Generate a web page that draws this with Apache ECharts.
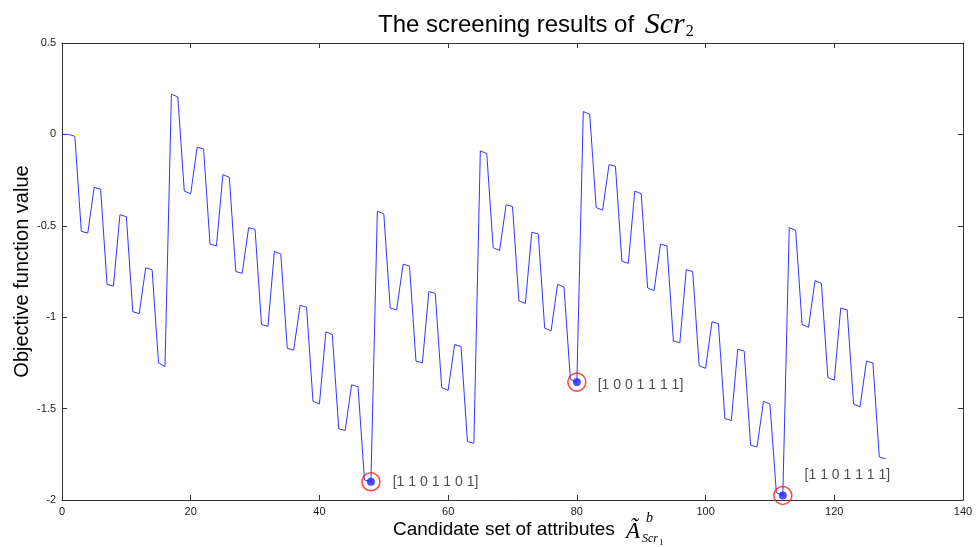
<!DOCTYPE html>
<html><head><meta charset="utf-8">
<script src="https://cdn.jsdelivr.net/npm/echarts@6/dist/echarts.min.js"></script>
<style>html,body{margin:0;padding:0;background:#fff}#c{width:976px;height:547px}</style>
</head><body><div id="c"></div>
<script>
// Objective function value for candidate index 0..128
const objectiveValues = [
  0.00,
  0.00, -0.01, -0.53, -0.54, -0.29, -0.30, -0.82, -0.83,
  -0.44, -0.45, -0.97, -0.98, -0.73, -0.74, -1.25, -1.27,
  0.22, 0.205, -0.31, -0.325, -0.07, -0.08, -0.60, -0.61,
  -0.22, -0.235, -0.75, -0.76, -0.51, -0.52, -1.04, -1.05,
  -0.64, -0.655, -1.17, -1.18, -0.935, -0.945, -1.46, -1.475,
  -1.08, -1.095, -1.61, -1.62, -1.37, -1.38, -1.89, -1.90,
  -0.42, -0.435, -0.95, -0.96, -0.71, -0.72, -1.24, -1.25,
  -0.86, -0.87, -1.385, -1.40, -1.15, -1.16, -1.68, -1.69,
  -0.09, -0.105, -0.62, -0.635, -0.385, -0.395, -0.91, -0.925,
  -0.535, -0.545, -1.06, -1.075, -0.82, -0.835, -1.34, -1.355,
  0.125, 0.11, -0.40, -0.415, -0.165, -0.175, -0.695, -0.705,
  -0.31, -0.325, -0.84, -0.855, -0.60, -0.61, -1.13, -1.14,
  -0.74, -0.75, -1.265, -1.28, -1.025, -1.035, -1.555, -1.565,
  -1.175, -1.185, -1.70, -1.71, -1.46, -1.475, -1.96, -1.975,
  -0.51, -0.525, -1.04, -1.055, -0.80, -0.815, -1.33, -1.345,
  -0.95, -0.96, -1.475, -1.49, -1.24, -1.25, -1.765, -1.775
];
// highlighted minima
const markedX = [48, 80, 112];
const markedCodes = ['[1 1 0 1 1 0 1]', '[1 0 0 1 1 1 1]', '[1 1 0 1 1 1 1]'];
const xTicks = [0, 20, 40, 60, 80, 100, 120, 140];
const yTicks = [-2, -1.5, -1, -0.5, 0, 0.5];

const chart = echarts.init(document.getElementById('c'));
const lineData = objectiveValues.map((v, i) => [i, v]);
const markData = markedX.map((x, k) => ({value: [x, objectiveValues[x]], code: markedCodes[k]}));
const labelOffsets = [[7, 0], [6, 3], [7, -20]];

const axisColor = '#333';
const baseX = {type: 'value', min: xTicks[0], max: xTicks[xTicks.length - 1], interval: 20,
  axisLine: {show: true, onZero: false, lineStyle: {color: axisColor, width: 1}},
  axisTick: {show: true, inside: true, length: 5, lineStyle: {color: axisColor}},
  splitLine: {show: false}};
const baseY = {type: 'value', min: yTicks[0], max: yTicks[yTicks.length - 1], interval: 0.5,
  axisLine: {show: true, onZero: false, lineStyle: {color: axisColor, width: 1}},
  axisTick: {show: true, inside: true, length: 5, lineStyle: {color: axisColor}},
  splitLine: {show: false}};

chart.setOption({
  animation: false,
  backgroundColor: '#fff',
  title: {
    text: '{a|The screening results of }{b|Scr}{c|2}',
    left: 373, top: 5,
    textStyle: {
      rich: {
        a: {fontFamily: 'Liberation Sans', fontWeight: 'normal', fontSize: 24, color: '#000'},
        b: {fontFamily: 'Liberation Serif', fontWeight: 'normal', fontStyle: 'italic', fontSize: 30, color: '#000', padding: [0, 0, 0, 4]},
        c: {fontFamily: 'Liberation Serif', fontWeight: 'normal', fontSize: 16, color: '#000', padding: [14, 0, 0, 1]}
      }
    }
  },
  grid: {left: 62, right: 13, top: 43, bottom: 47, outerBoundsMode: 'none', containLabel: false},
  xAxis: [
    Object.assign({}, baseX, {
      position: 'bottom',
      axisLabel: {show: true, color: '#222', fontFamily: 'Liberation Sans', fontSize: 11, margin: 6}
    }),
    Object.assign({}, baseX, {position: 'top', axisLabel: {show: false}})
  ],
  yAxis: [
    Object.assign({}, baseY, {
      position: 'left',
      axisLabel: {show: true, color: '#222', fontFamily: 'Liberation Sans', fontSize: 11, margin: 6},
      name: 'Objective function value',
      nameLocation: 'middle', nameGap: 30, nameRotate: 90, nameMoveOverlap: false,
      nameTextStyle: {fontFamily: 'Liberation Sans', fontSize: 20, color: '#000'}
    }),
    Object.assign({}, baseY, {position: 'right', axisLabel: {show: false}})
  ],
  graphic: [
    {type: 'text', x: 393, y: 530, style: {text: 'Candidate set of attributes', font: '19px "Liberation Sans"', fill: '#000', verticalAlign: 'middle'}},
    {type: 'text', x: 626, y: 532, style: {text: 'Ã', font: 'italic 23px "Liberation Serif"', fill: '#000', verticalAlign: 'middle'}},
    {type: 'text', x: 646, y: 518, style: {text: 'b', font: 'italic 14px "Liberation Serif"', fill: '#000', verticalAlign: 'middle'}},
    {type: 'text', x: 642, y: 539, style: {text: 'Scr', font: 'italic 12px "Liberation Serif"', fill: '#000', verticalAlign: 'middle'}},
    {type: 'text', x: 659, y: 543, style: {text: '1', font: '9px "Liberation Serif"', fill: '#000', verticalAlign: 'middle'}}
  ],
  series: [
    {
      type: 'line', data: lineData, showSymbol: false, symbol: 'none',
      lineStyle: {color: '#3535ff', width: 1}, z: 2
    },
    {
      type: 'scatter', data: markData, symbol: 'circle', symbolSize: 18,
      itemStyle: {color: 'rgba(0,0,0,0)', borderColor: '#ff2020', borderWidth: 1.6}, z: 3,
      label: {
        show: true, position: 'right',
        formatter: p => p.data.code,
        fontFamily: 'Liberation Sans', fontSize: 14, color: '#222'
      },
      labelLayout: p => ({dx: labelOffsets[p.dataIndex][0], dy: labelOffsets[p.dataIndex][1]})
    },
    {
      type: 'scatter', data: markData, symbol: 'circle', symbolSize: 8,
      itemStyle: {color: '#2020ff'}, z: 4
    }
  ]
});
</script></body></html>
